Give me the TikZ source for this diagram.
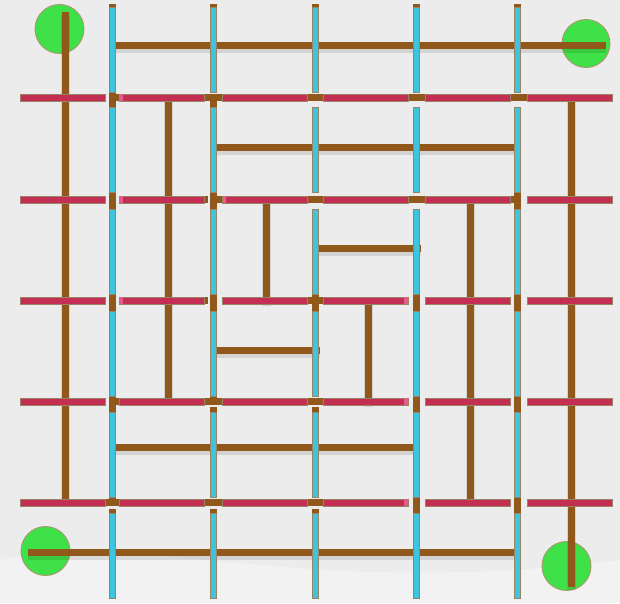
\documentclass[tikz,border=0pt]{standalone}
\definecolor{bg}{RGB}{236,236,236}
\definecolor{brn}{RGB}{145,88,28}
\definecolor{cyn}{RGB}{62,196,222}
\definecolor{crm}{RGB}{196,46,82}
\definecolor{pnk}{RGB}{228,92,142}
\definecolor{tanl}{RGB}{150,132,100}
\definecolor{grn}{RGB}{62,226,72}
\definecolor{grnl}{RGB}{172,150,110}
\begin{document}
\begin{tikzpicture}[x=1pt,y=-1pt,
  brownline/.style={draw=brn,line width=7pt},
  shadowline/.style={draw=black,opacity=0.10,line width=9pt},
  cbar/.style={fill=cyn,draw=tanl,line width=0.8pt},
  rbar/.style={fill=crm,draw=tanl,line width=0.8pt},
  ptip/.style={fill=pnk},
  goal/.style={fill=grn,draw=grnl,line width=0.9pt}]
\useasboundingbox (0,0) rectangle (620,603);
\fill[bg] (0,0) rectangle (620,603);
% soft lighter patches at the bottom
\fill[white,opacity=0.35] (0,560) .. controls (150,530) and (300,600) .. (620,560) -- (620,603) -- (0,603) -- cycle;
% goal circles
\draw[goal] (59.5,29) circle (24.5);
\draw[goal] (586,43.5) circle (24);
\draw[goal] (45.5,551) circle (24.5);
\draw[goal] (566.5,566) circle (24.5);
% shadows of the passages
\foreach \p in {
  {(65,15) -- (65,503)}, {(112,48) -- (606,48)}, {(168.5,100) -- (168.5,404)},
  {(213,150) -- (517,150)}, {(266,202) -- (266,306)}, {(315,251.5) -- (421,251.5)},
  {(213,353) -- (320,353)}, {(368,303) -- (368,407)}, {(470,202) -- (470,505)},
  {(571,100) -- (571,590)}, {(112,450) -- (416,450)}, {(28,555) -- (516,555)}}
  {\draw[shadowline] \p;}
% brown lines along the grid lines (mostly hidden under the bars)
\draw[brownline] (112.5,4) -- (112.5,504);
\draw[brownline] (213.5,4) -- (213.5,90);
\draw[brownline] (213.5,94) -- (213.5,401);
\draw[brownline] (315,4) -- (315,90);
\draw[brownline] (315,250) -- (315,350);
\draw[brownline] (416,4) -- (416,90);
\draw[brownline] (416,270) -- (416,540);
\draw[brownline] (517.5,4) -- (517.5,90);
\draw[brownline] (517.5,170) -- (517.5,515);
\foreach \x in {213.5,315} {\draw[brownline] (\x,407) -- (\x,460);}
\foreach \x in {112.5,213.5,315,517.5} {\draw[brownline] (\x,509) -- (\x,560);}
\draw[brownline] (109,97.5) -- (612,97.5);
\draw[brownline] (195,199.5) -- (208,199.5);
\draw[brownline] (213.5,199.5) -- (521,199.5);
\draw[brownline] (195,300.5) -- (208,300.5);
\draw[brownline] (266,300.5) -- (368,300.5);
\draw[brownline] (112.5,401.5) -- (400,401.5);
\draw[brownline] (20,502.5) -- (408,502.5);
% passages
\draw[brownline] (65,12) -- (65,500);
\draw[brownline] (112,45) -- (606,45);
\draw[brownline] (168.5,97) -- (168.5,401);
\draw[brownline] (213,147) -- (517,147);
\draw[brownline] (266,199) -- (266,303);
\draw[brownline] (315,248.5) -- (421,248.5);
\draw[brownline] (213,350) -- (320,350);
\draw[brownline] (368,300) -- (368,404);
\draw[brownline] (470,199) -- (470,502);
\draw[brownline] (571,97) -- (571,587);
\draw[brownline] (112,447) -- (416,447);
\draw[brownline] (28,552) -- (516,552);
% vertical cyan bars
\foreach \x in {112.5,213.5,315,416,517.5}
  \foreach \a/\b in {7/92,107/192,209/294,311/396,412/497,513/598}
    {\draw[cbar] (\x-3,\a) rectangle (\x+3,\b);}
% horizontal red bars
\foreach \y in {97.5,199.5,300.5,401.5,502.5}
  \foreach \a/\b in {20/105,119/204,222.5/307.5,323.5/408.5,425/510,527/612}
    {\draw[rbar] (\a,\y-3.5) rectangle (\b,\y+3.5);}
% lighter tips of the red bars
\foreach \a/\b/\y in {119.4/123/97.5,119.4/123/199.5,119.4/123/300.5,
   404/408.1/300.5,404/408.1/401.5,404/408.1/502.5,223/226/199.5}
  {\fill[ptip] (\a,\y-3.1) rectangle (\b,\y+3.1);}
\end{tikzpicture}
\end{document}
